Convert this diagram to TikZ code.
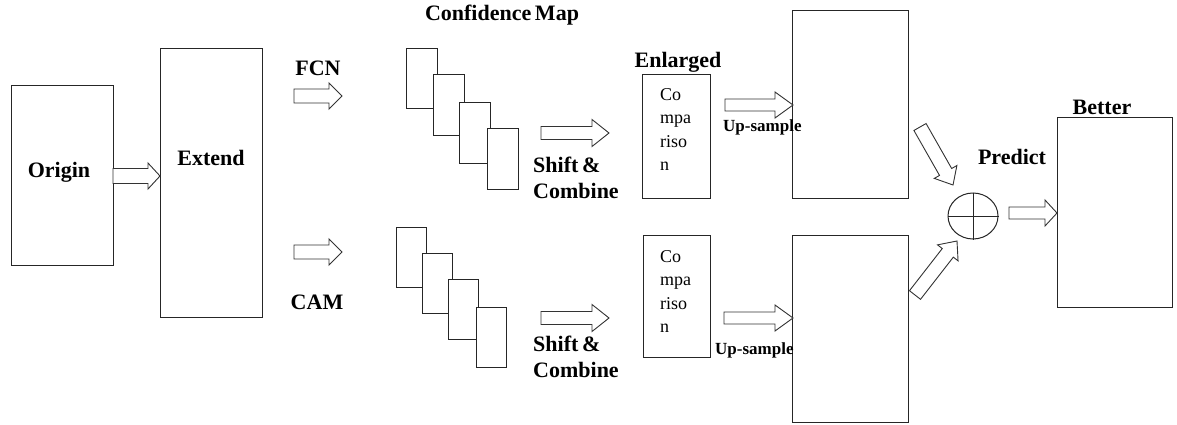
\documentclass[tikz,border=0pt]{standalone}
\usepackage{fontspec}
\setmainfont{Liberation Serif}
\usetikzlibrary{calc,shapes.geometric}
\tikzset{
  box/.style={draw=black!85, line width=1pt, fill=white, inner sep=0pt},
  harrow/.style={draw=black!80, line width=0.9pt, fill=white, line join=miter},
  lab/.style={font=\bfseries\fontsize{22}{26}\selectfont, inner sep=0pt},
  small/.style={font=\bfseries\fontsize{17}{19}\selectfont, inner sep=0pt},
  comp/.style={font=\fontsize{18}{23.5}\selectfont, inner sep=0pt, align=left, anchor=north west},
}
% tail, tip, shaft half-width, head half-width, head length
\newcommand{\hollowarrow}[5]{%
  \coordinate (hbtmp) at ($(#2)!#5pt!(#1)$);
  \draw[harrow] ($(#1)!#3pt!90:(#2)$) -- ($(hbtmp)!#3pt!90:(#2)$) -- ($(hbtmp)!#4pt!90:(#2)$)
    -- (#2) -- ($(hbtmp)!#4pt!-90:(#2)$) -- ($(hbtmp)!#3pt!-90:(#2)$) -- ($(#1)!#3pt!-90:(#2)$) -- cycle;
}
\begin{document}
\begin{tikzpicture}[x=1pt,y=-1pt]
\useasboundingbox (0,0) rectangle (1177,425);
\fill[white] (0,0) rectangle (1177,425);

% main boxes
\node[box, minimum width=102, minimum height=179] (origin) at (62,175.5) {};
\node[box, minimum width=102, minimum height=268] (extend) at (211,183) {};
\node[lab] (originT) at (59,172) {Origin};
\node[lab] (extendT) at (211,158) {Extend};

% confidence map stacks (top)
\node[box, minimum width=31, minimum height=60] (t1) at (421.5,79) {};
\node[box, minimum width=31, minimum height=60] (t2) at (449,105) {};
\node[box, minimum width=31, minimum height=60] (t3) at (475,133) {};
\node[box, minimum width=31, minimum height=60] (t4) at (502.5,159) {};
% bottom
\node[box, minimum width=30, minimum height=60] (b1) at (411,257) {};
\node[box, minimum width=30, minimum height=60] (b2) at (437,283) {};
\node[box, minimum width=30, minimum height=60] (b3) at (463.5,309.5) {};
\node[box, minimum width=30, minimum height=60] (b4) at (491,337) {};

% comparison boxes
\node[box, minimum width=68, minimum height=123] (compT) at (676,136.5) {};
\node[box, minimum width=67, minimum height=122] (compB) at (676.5,296) {};
\node[comp] (compTT) at (660,88) {Co\\mpa\\riso\\n};
\node[comp] (compBT) at (660,250) {Co\\mpa\\riso\\n};

% big boxes
\node[box, minimum width=116, minimum height=187] (bigT) at (850,104.5) {};
\node[box, minimum width=116, minimum height=187] (bigB) at (850,328.5) {};
\node[box, minimum width=115, minimum height=189] (better) at (1114.5,212.5) {};

% sum circle
\node[draw=black!85, line width=1pt, ellipse, minimum width=50, minimum height=46, inner sep=0pt] (sum) at (973,216) {};
\draw[black!85, line width=1pt] (sum.north) -- (sum.south) (sum.west) -- (sum.east);

% labels
\node[lab] (fcn) at (318,68) {FCN};
\node[lab] (cam) at (317,302) {CAM};
\node[lab] (conf) at (502,15) {Confidence\,Map};
\node[lab] (enl) at (678,62) {Enlarged};
\node[lab, align=left, anchor=west] (scT) at (533,178) {Shift\,\&\\Combine};
\node[lab, align=left, anchor=west] (scB) at (533,357) {Shift\,\&\\Combine};
\node[small, anchor=west] (upT) at (723,127) {Up-sample};
\node[small, anchor=west] (upB) at (715,350) {Up-sample};
\node[lab] (pred) at (1012,157) {Predict};
\node[lab] (bett) at (1102,107) {Better};

% arrow end points
\coordinate (a1s) at (113,176);   \coordinate (a1e) at (160,176);
\coordinate (fcnS) at (294,96);   \coordinate (fcnE) at (342,96);
\coordinate (camS) at (294,252);  \coordinate (camE) at (342,252);
\coordinate (shTS) at (541,133);  \coordinate (shTE) at (609,133);
\coordinate (shBS) at (541,318);  \coordinate (shBE) at (609,318);
\coordinate (upTS) at (725,105);  \coordinate (upTE) at (793,105);
\coordinate (upBS) at (724,318);  \coordinate (upBE) at (793,318);
\coordinate (dTS) at (920,127);   \coordinate (dTE) at (953,185);
\coordinate (dBS) at (915,295);   \coordinate (dBE) at (957,241);
\coordinate (outS) at (1009,213); \coordinate (outE) at (1057,213);

\hollowarrow{a1s}{a1e}{7.5}{13}{12}
\hollowarrow{fcnS}{fcnE}{7}{13}{13}
\hollowarrow{camS}{camE}{7}{13}{13}
\hollowarrow{shTS}{shTE}{6.5}{13.5}{17}
\hollowarrow{shBS}{shBE}{6.5}{13.5}{17}
\hollowarrow{upTS}{upTE}{6}{13}{18}
\hollowarrow{upBS}{upBE}{6}{13}{18}
\hollowarrow{dTS}{dTE}{7}{13}{15}
\hollowarrow{dBS}{dBE}{7}{13}{15}
\hollowarrow{outS}{outE}{6}{13}{12}
\end{tikzpicture}
\end{document}
